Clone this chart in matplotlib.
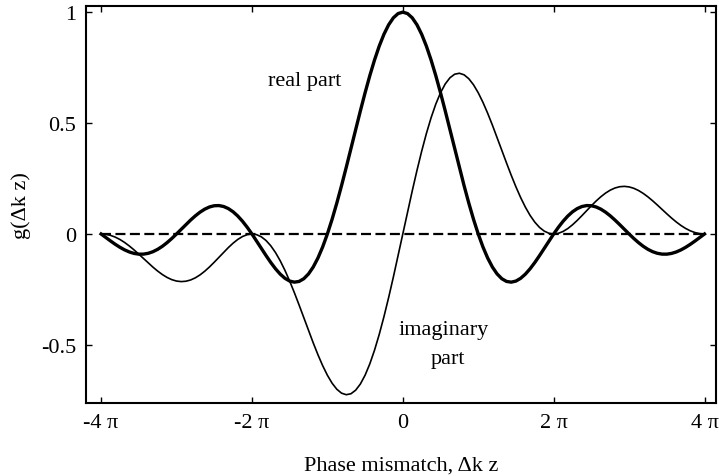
import matplotlib.pyplot as plt
import numpy as np

# phase mismatch samples, in units of pi (step pi/16, -4pi .. 4pi)
x_pi = [k / 16 for k in range(-64, 65)]

# real part
real_part = [
    0.0, -0.01577, -0.03144, -0.04639, -0.06002, -0.07177, -0.08112, -0.08763,
    -0.09095, -0.09082, -0.08713, -0.07990, -0.06926, -0.05548, -0.03898, -0.02028,
    0.0, 0.02114, 0.04237, 0.06288, 0.08185, 0.09848, 0.11203, 0.12183,
    0.12732, 0.12808, 0.12382, 0.11445, 0.10004, 0.08084, 0.05732, 0.03011,
    0.0, -0.03205, -0.06497, -0.09757, -0.12862, -0.15684, -0.18097, -0.19981,
    -0.21221, -0.21718, -0.21388, -0.20165, -0.18006, -0.14892, -0.10828, -0.05845,
    0.0, 0.06624, 0.13921, 0.21765, 0.30011, 0.38497, 0.47053, 0.55501,
    0.63662, 0.71359, 0.78421, 0.84693, 0.90032, 0.94316, 0.97450, 0.99359,
    1.0,
    0.99359, 0.97450, 0.94316, 0.90032, 0.84693, 0.78421, 0.71359, 0.63662,
    0.55501, 0.47053, 0.38497, 0.30011, 0.21765, 0.13921, 0.06624, 0.0,
    -0.05845, -0.10828, -0.14892, -0.18006, -0.20165, -0.21388, -0.21718, -0.21221,
    -0.19981, -0.18097, -0.15684, -0.12862, -0.09757, -0.06497, -0.03205, 0.0,
    0.03011, 0.05732, 0.08084, 0.10004, 0.11445, 0.12382, 0.12808, 0.12732,
    0.12183, 0.11203, 0.09848, 0.08185, 0.06288, 0.04237, 0.02114, 0.0,
    -0.02028, -0.03898, -0.05548, -0.06926, -0.07990, -0.08713, -0.09082, -0.09095,
    -0.08763, -0.08112, -0.07177, -0.06002, -0.04639, -0.03144, -0.01577, 0.0,
]

# imaginary part
imag_part = [
    0.0, -0.00155, -0.00625, -0.01407, -0.02486, -0.03836, -0.05421, -0.07192,
    -0.09095, -0.11066, -0.13041, -0.14948, -0.16720, -0.18289, -0.19596, -0.20588,
    -0.21221, -0.21464, -0.21300, -0.20728, -0.19759, -0.18424, -0.16766, -0.14845,
    -0.12732, -0.10511, -0.08274, -0.06117, -0.04144, -0.02452, -0.01140, -0.00297,
    0.0, -0.00316, -0.01292, -0.02960, -0.05328, -0.08383, -0.12092, -0.16398,
    -0.21221, -0.26463, -0.32009, -0.37726, -0.43471, -0.49093, -0.54435, -0.59342,
    -0.63662, -0.67254, -0.69987, -0.71750, -0.72452, -0.72022, -0.70420, -0.67628,
    -0.63662, -0.58562, -0.52399, -0.45269, -0.37292, -0.28611, -0.19384, -0.09786,
    0.0,
    0.09786, 0.19384, 0.28611, 0.37292, 0.45269, 0.52399, 0.58562, 0.63662,
    0.67628, 0.70420, 0.72022, 0.72452, 0.71750, 0.69987, 0.67254, 0.63662,
    0.59342, 0.54435, 0.49093, 0.43471, 0.37726, 0.32009, 0.26463, 0.21221,
    0.16398, 0.12092, 0.08383, 0.05328, 0.02960, 0.01292, 0.00316, 0.0,
    0.00297, 0.01140, 0.02452, 0.04144, 0.06117, 0.08274, 0.10511, 0.12732,
    0.14845, 0.16766, 0.18424, 0.19759, 0.20728, 0.21300, 0.21464, 0.21221,
    0.20588, 0.19596, 0.18289, 0.16720, 0.14948, 0.13041, 0.11066, 0.09095,
    0.07192, 0.05421, 0.03836, 0.02486, 0.01407, 0.00625, 0.00155, 0.0,
]

xtick_pos = [-4, -2, 0, 2, 4]
xtick_labels = ['-4 \u03c0', '-2 \u03c0', '0', '2 \u03c0', '4 \u03c0']
ytick_pos = [-0.5, 0, 0.5, 1]
ytick_labels = ['-0.5', '0', '0.5', '1']

plt.rcParams['font.family'] = ['Liberation Serif', 'DejaVu Serif']

fig = plt.figure(figsize=(7.19, 4.77), dpi=100)
ax = fig.add_axes([0.1196, 0.153, 0.876, 0.832])

x = np.array(x_pi)
ax.plot([x[0], x[-1]], [0, 0], color='black', lw=1.6, dashes=(4.5, 2))
ax.plot(x, imag_part, color='black', lw=1.2)
ax.plot(x, real_part, color='black', lw=2.4)

ax.set_xlim(-4.2, 4.15)
ax.set_ylim(-0.762, 1.027)
ax.set_xticks(xtick_pos)
ax.set_xticklabels(xtick_labels)
ax.set_yticks(ytick_pos)
ax.set_yticklabels(ytick_labels)
ax.tick_params(direction='in', length=4, width=1, labelsize=16,
               top=True, right=True, pad=7)
for s in ax.spines.values():
    s.set_linewidth(1.5)

ax.text(-1.30, 0.69, 'real part', fontsize=16, ha='center', va='center')
ax.text(0.54, -0.43, 'imaginary', fontsize=16, ha='center', va='center')
ax.text(0.60, -0.56, 'part', fontsize=16, ha='center', va='center')

ax.set_xlabel('Phase mismatch, \u0394k z', fontsize=16, labelpad=17)
ax.set_ylabel('g(\u0394k z)', fontsize=16, labelpad=7)

plt.savefig('out.png')
plt.close()
